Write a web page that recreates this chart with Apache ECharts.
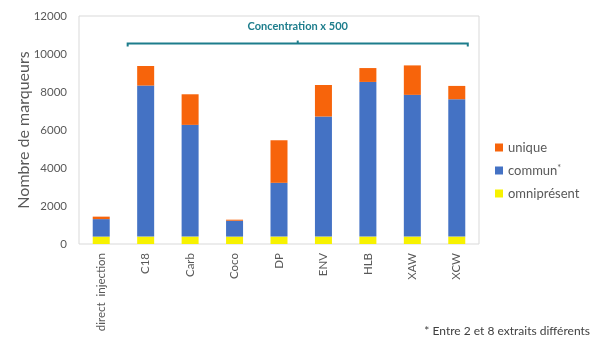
<!DOCTYPE html>
<html>
<head>
<meta charset="utf-8">
<script src="https://cdn.jsdelivr.net/npm/echarts@6/dist/echarts.min.js"></script>
<style>
  html, body { margin: 0; padding: 0; background: #fff; }
  #chart { width: 606px; height: 354px; }
</style>
</head>
<body>
<div id="chart"></div>
<script>
const categories = ['direct  injection', 'C18', 'Carb', 'Coco', 'DP', 'ENV', 'HLB', 'XAW', 'XCW'];
const omnipresent = [390, 390, 390, 390, 390, 390, 390, 390, 390];
const commun = [920, 7950, 5880, 835, 2830, 6320, 8140, 7460, 7230];
const unique = [130, 1030, 1610, 55, 2240, 1660, 730, 1550, 700];
const yTicks = { min: 0, max: 12000, interval: 2000 };

const font = 'Lato, "Open Sans", sans-serif';
const grey = '#595959';
const teal = '#1d7d8c';

const chart = echarts.init(document.getElementById('chart'));

function series(name, data, color) {
  return {
    name: name,
    type: 'bar',
    stack: 'total',
    barWidth: 17,
    data: data,
    itemStyle: { color: color },
    emphasis: { disabled: true }
  };
}

chart.setOption({
  animation: false,
  textStyle: { fontFamily: font },
  grid: {
    left: 79, right: 127, top: 16, bottom: 110,
    show: true, borderColor: '#d9d9d9', borderWidth: 1
  },
  xAxis: {
    type: 'category',
    data: categories,
    axisLine: { show: false },
    axisTick: { show: false },
    axisLabel: { rotate: 90, color: grey, fontSize: 11.5, margin: 9, fontFamily: font }
  },
  yAxis: {
    type: 'value',
    min: yTicks.min, max: yTicks.max, interval: yTicks.interval,
    splitLine: { show: false },
    axisLine: { show: false },
    axisLabel: { color: grey, fontSize: 11.5, margin: 12, fontFamily: font, formatter: v => String(v) },
    name: 'Nombre de marqueurs',
    nameLocation: 'middle',
    nameGap: 47,
    nameMoveOverlap: false,
    nameTextStyle: { color: grey, fontSize: 16, fontFamily: font }
  },
  legend: {
    orient: 'vertical',
    left: 490, top: 136,
    itemWidth: 8, itemHeight: 8, itemGap: 10,
    icon: 'rect',
    data: ['unique', 'commun', 'omniprésent'],
    formatter: function (n) {
      return n === 'commun' ? '{a|commun}{s|*}' : '{a|' + n + '}';
    },
    textStyle: {
      color: grey, fontFamily: font,
      rich: {
        a: { fontSize: 13, color: grey, fontFamily: font },
        s: { fontSize: 9, color: grey, fontFamily: font, verticalAlign: 'top', padding: [0, 0, 4, 0] }
      }
    }
  },
  series: [
    series('omniprésent', omnipresent, '#f7f200'),
    series('commun', commun, '#4472c4'),
    series('unique', unique, '#f7640b')
  ]
});

// bracket over the concentrated extracts
const x0 = chart.convertToPixel({ xAxisIndex: 0 }, 'C18') - 18;
const x1 = chart.convertToPixel({ xAxisIndex: 0 }, 'XCW') + 11;
const yb = chart.convertToPixel({ yAxisIndex: 0 }, 10550);
const xm = (x0 + x1) / 2;
chart.setOption({
  graphic: [
    { type: 'polyline', shape: { points: [[x0, yb + 3], [x0, yb], [x1, yb], [x1, yb + 3]] },
      style: { stroke: teal, lineWidth: 2, fill: null } },
    { type: 'line', shape: { x1: xm, y1: yb, x2: xm, y2: yb - 3 },
      style: { stroke: teal, lineWidth: 2 } },
    { type: 'text', x: xm, y: yb - 17,
      style: { text: 'Concentration x 500', fill: teal, font: 'bold 11px ' + font, align: 'center', verticalAlign: 'middle' } },
    { type: 'text', right: 16, top: 325,
      style: { text: '* Entre 2 et 8 extraits différents', fill: '#404040', font: '12px ' + font } }
  ]
});
</script>
</body>
</html>
